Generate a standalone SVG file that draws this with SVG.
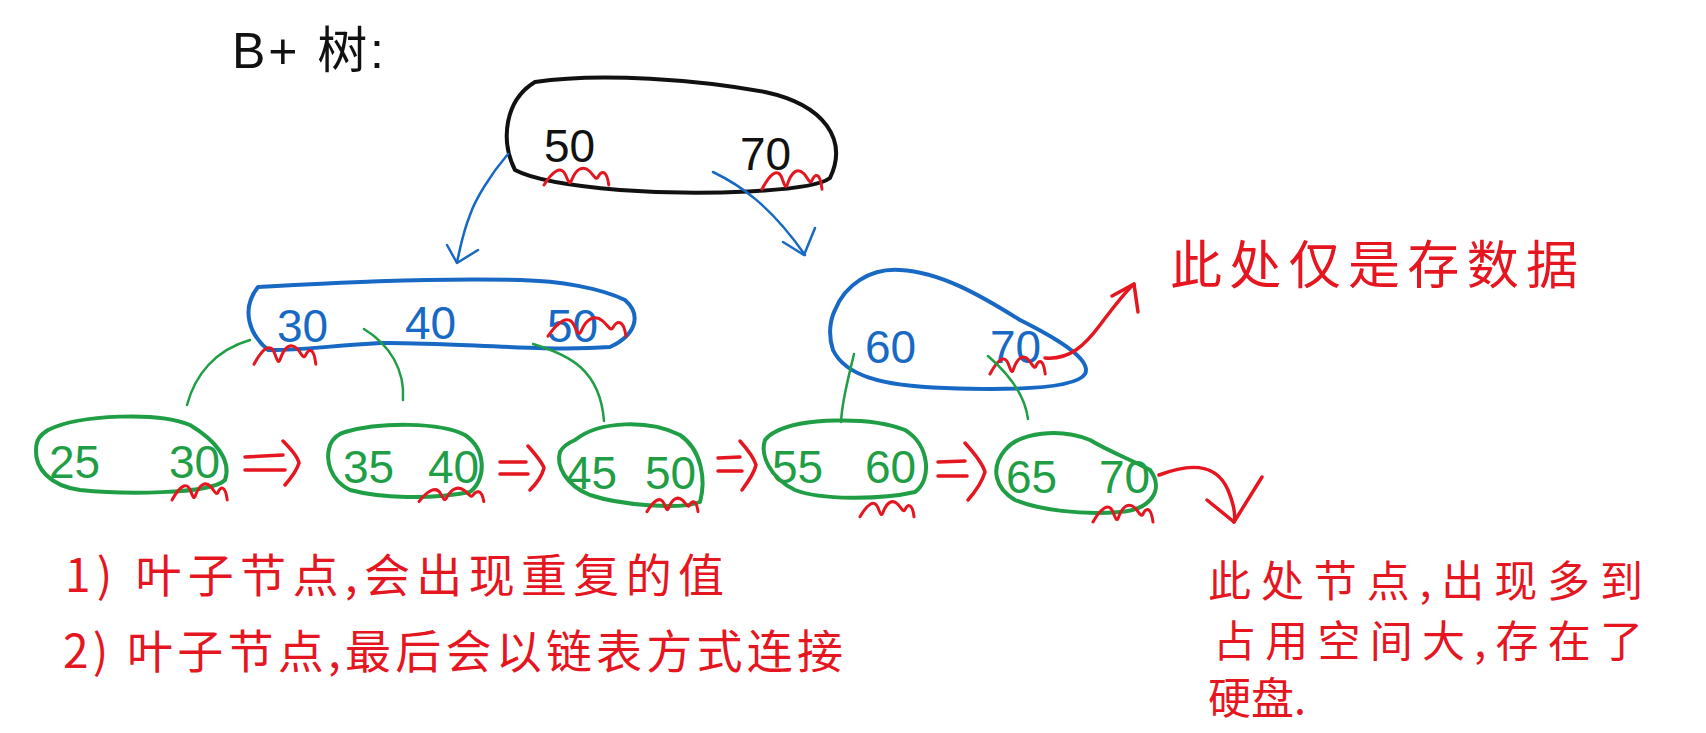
<svg xmlns="http://www.w3.org/2000/svg" xmlns:xlink="http://www.w3.org/1999/xlink" width="1706" height="733" viewBox="0 0 1706 733">
<style>
.blk{fill:none;stroke:#111;stroke-width:4;stroke-linecap:round;stroke-linejoin:round}
.blu{fill:none;stroke:#1769c4;stroke-width:4;stroke-linecap:round;stroke-linejoin:round}
.blut{fill:none;stroke:#1769c4;stroke-width:2.5;stroke-linecap:round;stroke-linejoin:round}
.grn{fill:none;stroke:#1f9e45;stroke-width:4;stroke-linecap:round;stroke-linejoin:round}
.grnt{fill:none;stroke:#1f9e45;stroke-width:2.5;stroke-linecap:round;stroke-linejoin:round}
.red{fill:none;stroke:#e5161f;stroke-width:3.5;stroke-linecap:round;stroke-linejoin:round}
.sq{fill:none;stroke:#e5161f;stroke-width:3;stroke-linecap:round;stroke-linejoin:round}
.num{font-family:"Liberation Sans","DejaVu Sans",sans-serif;font-size:46px}
.tb{fill:#111}.tu{fill:#1769c4}.tg{fill:#1f9e45}
.cn{font-family:"Noto Sans CJK SC","Noto Sans",sans-serif;fill:#e5161f}
</style>
<defs>
<path id="sqp" d="M 0,22 C 8,8 16,2 20,12 C 23,20 24,22 26,16 C 30,6 36,2 42,8 C 46,12 48,18 50,14 C 53,8 58,6 60,22" vector-effect="non-scaling-stroke"/>
</defs>

<text x="232" y="68" font-family="Liberation Sans,'Noto Sans CJK SC',sans-serif" font-size="50" fill="#111" textLength="152" lengthAdjust="spacing">B+ 树:</text>

<g id="root">
<path class="blk" d="M 535,82 C 600,72 700,80 765,92 C 825,105 848,140 830,178 C 812,192 700,196 620,190 C 560,185 530,178 515,170 C 500,140 505,100 535,82 Z"/>
<text class="num tb" x="544" y="162" font-size="50">50</text>
<text class="num tb" x="740" y="170" font-size="52">70</text>
<use class="sq" xlink:href="#sqp" transform="translate(544,163) scale(1.08,1)"/>
<use class="sq" xlink:href="#sqp" transform="translate(762,165) scale(1,1.1)"/>
</g>

<g id="mid-left">
<path class="blu" d="M 258,287 C 330,283 420,278 520,280 C 560,281 600,288 625,300 C 642,315 636,335 610,347 C 540,352 450,342 380,343 C 330,346 290,351 268,350 C 250,335 240,310 258,287 Z"/>
<text class="num tu" x="277" y="342">30</text>
<text class="num tu" x="405" y="339">40</text>
<text class="num tu" x="547" y="342">50</text>
<use class="sq" xlink:href="#sqp" transform="translate(254,340) scale(1.03,1.1)"/>
<use class="sq" xlink:href="#sqp" transform="translate(548,312) scale(1.3,1.1)"/>
</g>

<g id="mid-right">
<path class="blu" d="M 835,310 C 845,285 870,268 900,270 C 940,272 980,295 1020,320 C 1060,340 1092,360 1085,374 C 1075,390 1000,390 945,388 C 880,386 845,375 833,350 C 828,335 830,320 835,310 Z"/>
<text class="num tu" x="865" y="363">60</text>
<text class="num tu" x="990" y="363">70</text>
<use class="sq" xlink:href="#sqp" transform="translate(990,352) scale(0.92,1)"/>
</g>

<g id="leaf1">
<path class="grn" d="M 48,430 C 80,414 160,412 190,425 C 215,440 232,460 225,480 C 210,495 120,494 80,490 C 50,486 35,468 36,450 C 36,440 40,435 48,430 Z"/>
<text class="num tg" x="49" y="478">25</text>
<text class="num tg" x="169" y="478">30</text>
<use class="sq" xlink:href="#sqp" transform="translate(172,479) scale(0.92,0.95)"/>
</g>
<g id="leaf2">
<path class="grn" d="M 345,432 C 380,422 440,422 465,435 C 487,450 486,480 470,492 C 430,500 380,498 350,490 C 330,480 325,460 330,445 C 333,438 338,434 345,432 Z"/>
<text class="num tg" x="343" y="483">35</text>
<text class="num tg" x="428" y="483">40</text>
<use class="sq" xlink:href="#sqp" transform="translate(419,484) scale(1.08,0.8)"/>
</g>
<g id="leaf3">
<path class="grn" d="M 575,440 C 600,420 650,420 680,435 C 702,450 706,480 700,502 C 680,510 620,505 590,495 C 565,485 556,465 560,452 C 563,446 568,443 575,440 Z"/>
<text class="num tg" x="566" y="489">45</text>
<text class="num tg" x="645" y="489">50</text>
<use class="sq" xlink:href="#sqp" transform="translate(647,494) scale(0.85,0.8)"/>
</g>
<g id="leaf4">
<path class="grn" d="M 775,432 C 800,418 870,416 905,430 C 930,445 932,480 915,492 C 880,500 820,500 795,490 C 770,478 760,455 765,440 C 768,436 771,434 775,432 Z"/>
<text class="num tg" x="772" y="483">55</text>
<text class="num tg" x="865" y="483">60</text>
<use class="sq" xlink:href="#sqp" transform="translate(860,497) scale(0.9,0.9)"/>
</g>
<g id="leaf5">
<path class="grn" d="M 1005,450 C 1020,432 1060,428 1090,440 C 1110,452 1132,460 1150,470 C 1165,490 1150,510 1120,512 C 1080,515 1040,510 1015,500 C 995,488 990,468 1005,450 Z"/>
<text class="num tg" x="1006" y="493">65</text>
<text class="num tg" x="1099" y="493">70</text>
<use class="sq" xlink:href="#sqp" transform="translate(1093,500) scale(1,1)"/>
</g>

<g id="connectors">
<path class="blut" d="M 508,154 C 490,175 475,200 470,215 C 462,235 460,250 457,262"/>
<path class="blut" d="M 447,245 L 457,263 L 478,250"/>
<path class="blut" d="M 713,172 C 740,185 770,205 805,255"/>
<path class="blut" d="M 783,242 L 804,255 L 815,228"/>
<path class="grnt" d="M 250,340 C 215,350 195,375 187,405"/>
<path class="grnt" d="M 364,329 C 390,345 405,370 403,400"/>
<path class="grnt" d="M 533,344 C 570,355 600,370 604,421"/>
<path class="grnt" d="M 854,354 C 848,380 842,400 841,422"/>
<path class="grnt" d="M 988,356 C 1010,375 1025,395 1028,419"/>
<path class="red" d="M 245,457 L 283,455 M 245,470 L 285,470 M 283,441 C 292,450 298,458 299,463 C 297,470 291,478 285,485"/>
<path class="red" d="M 500,462 L 526,462 M 500,474 L 528,474 M 528,446 C 536,455 542,462 544,468 C 542,476 536,484 530,490"/>
<path class="red" d="M 718,458 L 740,457 M 718,471 L 742,471 M 740,441 C 748,450 754,458 756,465 C 754,474 748,482 742,490"/>
<path class="red" d="M 938,462 L 965,461 M 938,476 L 967,476 M 965,443 C 975,454 983,465 985,472 C 982,482 975,492 968,500"/>
<path class="red" d="M 1045,358 C 1070,360 1085,345 1100,325 C 1115,305 1125,292 1134,284"/>
<path class="red" d="M 1112,296 L 1134,284 L 1138,312"/>
<path class="red" d="M 1159,475 C 1185,465 1215,460 1228,490 C 1234,505 1236,515 1234,522"/>
<path class="red" d="M 1207,500 L 1234,522 L 1262,477"/>
</g>

<text class="cn" x="1170" y="284" font-size="52" textLength="408" lengthAdjust="spacing">此处仅是存数据</text>
<text class="cn" x="65" y="592" font-size="46" textLength="659" lengthAdjust="spacing">1) 叶子节点,会出现重复的值</text>
<text class="cn" x="63" y="668" font-size="46" textLength="780" lengthAdjust="spacing">2) 叶子节点,最后会以链表方式连接</text>
<text class="cn" x="1208" y="597" font-size="43" textLength="435" lengthAdjust="spacing">此处节点,出现多到</text>
<text class="cn" x="1213" y="657" font-size="43" textLength="430" lengthAdjust="spacing">占用空间大,存在了</text>
<text class="cn" x="1208" y="714" font-size="43">硬盘.</text>
</svg>
